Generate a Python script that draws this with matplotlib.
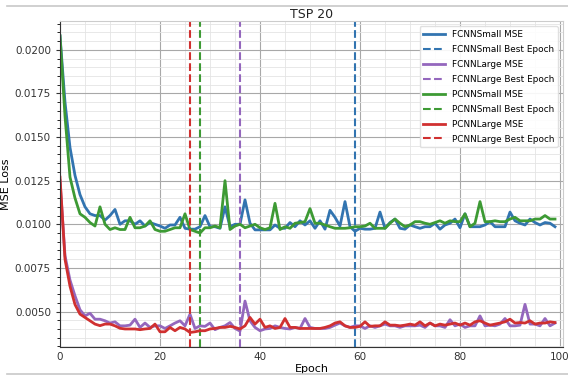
import numpy as np
import matplotlib
matplotlib.use("Agg")
import matplotlib.pyplot as plt
from matplotlib.lines import Line2D
from matplotlib.ticker import MultipleLocator, FormatStrFormatter

# MSE por epoca (TSP 20)
fcnn_small = [0.0208, 0.0170, 0.0144, 0.0128, 0.0117, 0.0110, 0.0106, 0.0105, 0.0105, 0.01024,
              0.0105, 0.01085, 0.0100, 0.0102, 0.0102, 0.0100, 0.0102, 0.0099, 0.0101, 0.0100,
              0.0099, 0.00977, 0.00996, 0.00996, 0.0104, 0.00977, 0.00972, 0.00972, 0.00986, 0.0105,
              0.00986, 0.00986, 0.00977, 0.0110, 0.00986, 0.0100, 0.0100, 0.0114, 0.01006, 0.00968,
              0.00968, 0.00968, 0.00968, 0.00996, 0.00977, 0.00977, 0.0101, 0.00986, 0.0102, 0.00996,
              0.0102, 0.00977, 0.0102, 0.00972, 0.0108, 0.0104, 0.0099, 0.0113, 0.00986, 0.0096,
              0.00977, 0.00972, 0.00972, 0.00977, 0.0107, 0.00977, 0.0101, 0.0103, 0.00977, 0.00972,
              0.00996, 0.00986, 0.00977, 0.00986, 0.00986, 0.01006, 0.00972, 0.00996, 0.01006, 0.0103,
              0.0098, 0.0106, 0.00986, 0.00986, 0.00986, 0.00996, 0.01015, 0.00986, 0.00986, 0.00986,
              0.0107, 0.0102, 0.01006, 0.00996, 0.0103, 0.0101, 0.00996, 0.0101, 0.01006, 0.00986]
fcnn_large = [0.0125, 0.0082, 0.0068, 0.0059, 0.0051, 0.00475, 0.0049, 0.00456, 0.00456, 0.00447,
              0.00434, 0.00441, 0.00418, 0.00418, 0.00422, 0.00456, 0.00409, 0.00434, 0.00409, 0.00418,
              0.00418, 0.00403, 0.00418, 0.00434, 0.00447, 0.00418, 0.00485, 0.00403, 0.00418, 0.00415,
              0.00434, 0.00396, 0.00409, 0.00418, 0.00437, 0.00403, 0.00388, 0.0056, 0.00447, 0.00409,
              0.0039, 0.0040, 0.00403, 0.00418, 0.00409, 0.00403, 0.0040, 0.00409, 0.00403, 0.0046,
              0.00409, 0.00403, 0.00403, 0.00403, 0.00409, 0.00422, 0.00434, 0.00418, 0.00409, 0.00418,
              0.00418, 0.00403, 0.00418, 0.00409, 0.00418, 0.00428, 0.00418, 0.00418, 0.00409, 0.00418,
              0.00418, 0.00418, 0.00422, 0.00409, 0.00434, 0.00418, 0.00418, 0.00409, 0.00453, 0.00418,
              0.00428, 0.00409, 0.00418, 0.00418, 0.00475, 0.00418, 0.00422, 0.00418, 0.00428, 0.0046,
              0.00418, 0.00418, 0.00422, 0.00541, 0.00428, 0.00428, 0.00418, 0.0046, 0.00418, 0.00434]
pcnn_small = [0.0208, 0.0162, 0.0127, 0.0115, 0.0106, 0.0104, 0.0101, 0.0099, 0.0110, 0.0100,
              0.0097, 0.0098, 0.0097, 0.0097, 0.0104, 0.0098, 0.0098, 0.0099, 0.0102, 0.0097,
              0.0096, 0.0096, 0.0097, 0.0098, 0.0098, 0.0106, 0.0097, 0.0096, 0.0095, 0.0098,
              0.0098, 0.0099, 0.0098, 0.0125, 0.0097, 0.0099, 0.0100, 0.0098, 0.0099, 0.0100,
              0.0098, 0.0097, 0.0098, 0.0112, 0.0097, 0.00986, 0.00977, 0.01006, 0.0101, 0.01015,
              0.0109, 0.01006, 0.01006, 0.00996, 0.00986, 0.00977, 0.00977, 0.00977, 0.0098, 0.00986,
              0.00986, 0.0099, 0.01006, 0.00977, 0.00977, 0.00977, 0.01006, 0.0103, 0.01006, 0.00986,
              0.00996, 0.01015, 0.01015, 0.01006, 0.0100, 0.0101, 0.0102, 0.01006, 0.0102, 0.01015,
              0.01015, 0.0106, 0.00986, 0.01006, 0.0113, 0.01015, 0.01015, 0.0102, 0.01015, 0.01015,
              0.0103, 0.0104, 0.0102, 0.0102, 0.0102, 0.0103, 0.0103, 0.0105, 0.0103, 0.0103]
pcnn_large = [0.0127, 0.0080, 0.00645, 0.0054, 0.00485, 0.00466, 0.00447, 0.00428, 0.00419, 0.00428,
              0.00428, 0.00418, 0.00404, 0.0040, 0.0040, 0.0040, 0.00396, 0.0040, 0.00403, 0.00428,
              0.00384, 0.00384, 0.00409, 0.0039, 0.00409, 0.0040, 0.0038, 0.00384, 0.0039, 0.0039,
              0.0040, 0.00403, 0.00409, 0.00409, 0.00415, 0.00409, 0.0040, 0.00418, 0.00466, 0.00428,
              0.00456, 0.00409, 0.00418, 0.00403, 0.00409, 0.0046, 0.00409, 0.00409, 0.00403, 0.00403,
              0.00403, 0.00403, 0.00403, 0.00409, 0.00418, 0.00434, 0.00441, 0.00418, 0.00409, 0.00409,
              0.00415, 0.00441, 0.00415, 0.00418, 0.00418, 0.00441, 0.00422, 0.00422, 0.00418, 0.00422,
              0.00428, 0.00422, 0.00441, 0.00418, 0.00434, 0.00418, 0.00428, 0.00422, 0.00428, 0.00434,
              0.00422, 0.00434, 0.00422, 0.00441, 0.00447, 0.00434, 0.00422, 0.00428, 0.00434, 0.00441,
              0.00456, 0.00434, 0.00437, 0.00434, 0.00447, 0.00428, 0.00434, 0.00434, 0.00441, 0.00437]

model_names = ["FCNNSmall", "FCNNLarge", "PCNNSmall", "PCNNLarge"]
best_epochs = [59, 36, 28, 26]
colors = ["#3274b0", "#9467bd", "#3d9a34", "#d03030"]

fig = plt.figure(figsize=(5.68, 3.77), dpi=100)
ax = fig.add_axes([60/568, 1 - 347.3/377, 503/568, 326.3/377])

series = [fcnn_small, fcnn_large, pcnn_small, pcnn_large]
for name, ys, be, c in zip(model_names, series, best_epochs, colors):
    ax.plot(np.arange(len(ys)), ys, color=c, lw=2.0, label=f"{name} MSE")
    ax.axvline(be, color=c, lw=1.5, ls="--", label=f"{name} Best Epoch")

ax.set_xlim(0, 100.6)
ax.set_ylim(0.00295, 0.02165)
ax.xaxis.set_major_locator(MultipleLocator(20))
ax.xaxis.set_minor_locator(MultipleLocator(5))
ax.yaxis.set_major_locator(MultipleLocator(0.0025))
ax.yaxis.set_minor_locator(MultipleLocator(0.0005))
ax.yaxis.set_major_formatter(FormatStrFormatter("%.4f"))
ax.grid(which="major", color="#a8a8a8", lw=0.8)
ax.grid(which="minor", color="#e4e4e4", lw=0.6)
ax.set_axisbelow(True)
ax.tick_params(labelsize=7.5, colors="#333333", length=3)
ax.tick_params(which="minor", length=2)
ax.tick_params(axis="x", which="both", length=0)
for side in ["top", "right"]:
    ax.spines[side].set_color("#cccccc")
for side in ["left", "bottom"]:
    ax.spines[side].set_color("#333333")

ax.set_title("TSP 20", fontsize=9, color="#222222", pad=2)
ax.set_xlabel("Epoch", fontsize=8, labelpad=1)
ax.set_ylabel("MSE Loss", fontsize=8, labelpad=3)
ax.legend(loc="upper right", fontsize=6.4, framealpha=0.9, edgecolor="#dddddd",
          borderaxespad=0.6, handlelength=2.4, labelspacing=0.67)

# lineas grises de borde
fig.add_artist(Line2D([7/568, 1], [1 - 6/377, 1 - 6/377], color="#c8c8c8", lw=1.2))
fig.add_artist(Line2D([7/568, 1], [1 - 374/377, 1 - 374/377], color="#c8c8c8", lw=1.2))

fig.savefig("out.png", dpi=100)
